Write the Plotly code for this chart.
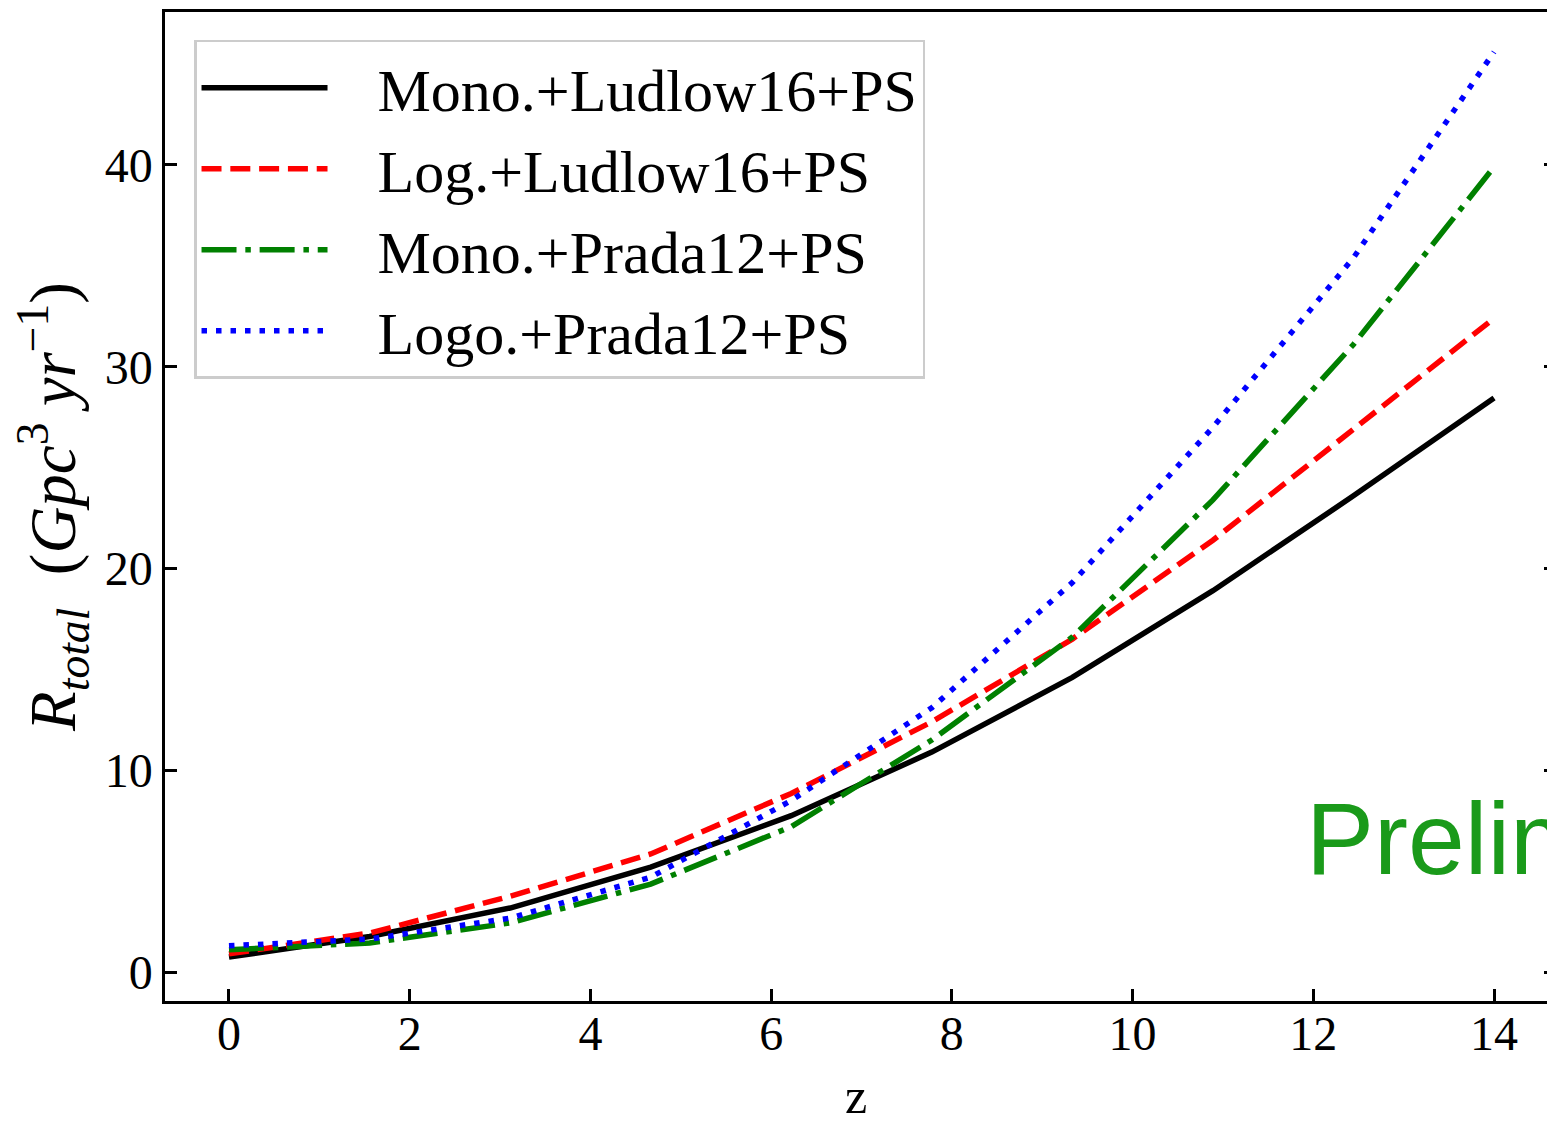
import plotly.graph_objects as go

z = [0.0, 1.556, 3.111, 4.667, 6.222, 7.778, 9.333, 10.889, 12.444, 14.0]

mono_ludlow = [0.74, 1.76, 3.17, 5.2, 7.75, 10.9, 14.6, 18.9, 23.6, 28.45]
log_ludlow = [0.9, 1.93, 3.75, 5.85, 8.85, 12.4, 16.5, 21.4, 26.9, 32.4]
mono_prada = [1.1, 1.44, 2.43, 4.36, 7.2, 11.5, 16.6, 23.4, 31.1, 39.9]
logo_prada = [1.3, 1.63, 2.67, 4.7, 8.5, 13.1, 19.3, 27.0, 35.4, 45.6]

labels = ["Mono.+Ludlow16+PS", "Log.+Ludlow16+PS", "Mono.+Prada12+PS", "Logo.+Prada12+PS"]
series = [mono_ludlow, log_ludlow, mono_prada, logo_prada]
colors = ["#000000", "#ff0000", "#008000", "#0000ff"]
dashes = ["solid", "20px,8.8px", "35px,8.8px,5.5px,8.8px", "5.5px,9px"]

xticks = [0, 2, 4, 6, 8, 10, 12, 14]
yticks = [0, 10, 20, 30, 40]

SERIF = "Liberation Serif, Times New Roman, serif"
GAP = "\u00a0\u00a0\u00a0"

fig = go.Figure()
for lab, s, c, d in zip(labels, series, colors, dashes):
    fig.add_trace(go.Scatter(x=z, y=s, mode="lines", name=GAP + lab,
                             line=dict(color=c, width=5.5, dash=d)))

axis_common = dict(
    showgrid=False, zeroline=False, showline=True, linecolor="black", linewidth=2.5,
    ticks="inside", ticklen=12, tickwidth=2.5, tickcolor="black",
    tickfont=dict(family=SERIF, size=48, color="black"), automargin=False,
)

ylab = ("<i>R</i><sub><i>total</i></sub>\u00a0\u00a0(<i>Gpc</i><sup>3</sup>\u00a0"
        "<i>yr</i><sup>\u22121</sup>)")

fig.update_layout(
    width=1547, height=1124,
    margin=dict(l=165, r=0, t=12, b=123, autoexpand=False),
    paper_bgcolor="white", plot_bgcolor="white",
    showlegend=True,
    legend=dict(
        x=0.021, y=0.972, xanchor="left", yanchor="top",
        bgcolor="rgba(255,255,255,0.8)", bordercolor="#cccccc", borderwidth=2.5,
        font=dict(family=SERIF, size=60, color="black"),
        itemwidth=126, tracegroupgap=0,
    ),
    xaxis=dict(axis_common, range=[-0.708, 14.586], tickvals=xticks, mirror=True,
               ticklabelstandoff=-11,
               title=dict(text="z", font=dict(family=SERIF, size=50, color="black"), standoff=33)),
    yaxis=dict(axis_common, range=[-1.437, 47.58], tickvals=yticks, mirror=False,
               ticklabelstandoff=0,
               title=dict(text=ylab, font=dict(family=SERIF, size=65, color="black"), standoff=8)),
    yaxis2=dict(overlaying="y", side="right", matches="y", range=[-1.437, 47.58],
                showgrid=False, zeroline=False, showline=False, tickvals=yticks,
                ticks="inside", ticklen=3, tickwidth=2.5, tickcolor="black",
                showticklabels=False, automargin=False),
    annotations=[dict(x=11.9, y=3.65, xref="x", yref="y", text="Preliminary",
                      showarrow=False, xanchor="left", yanchor="bottom",
                      font=dict(family="Liberation Sans, Arial, sans-serif", size=102, color="#1a9a1a"))],
)
fig.add_trace(go.Scatter(x=[z[0]], y=[mono_ludlow[0]], yaxis="y2", mode="markers",
                         marker=dict(opacity=0), showlegend=False, hoverinfo="skip"))

fig.write_html("out.html", config={"displayModeBar": False},
               post_script="document.body.style.margin='0';document.body.style.overflow='hidden';")
